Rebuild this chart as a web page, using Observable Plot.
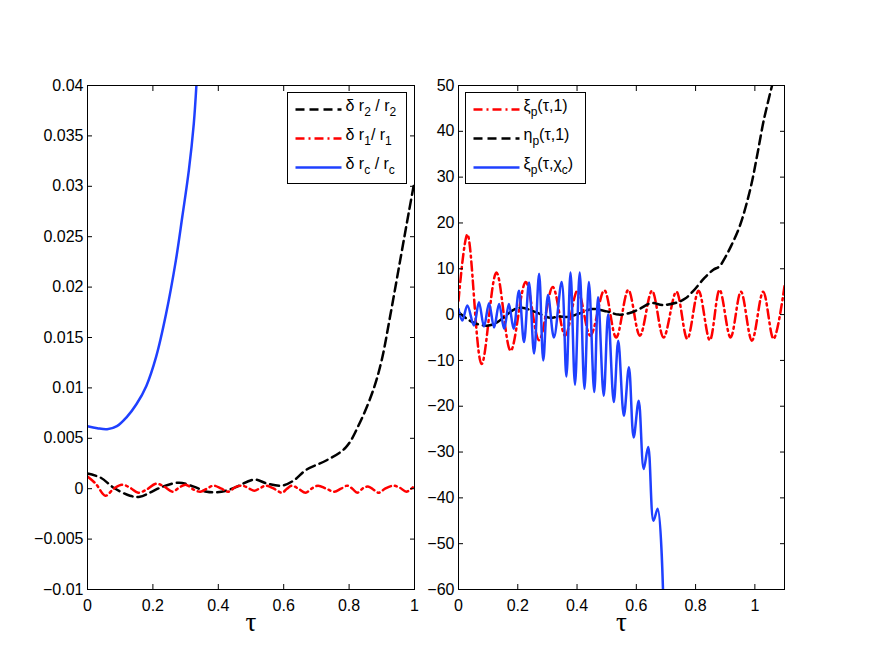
<!DOCTYPE html>
<html>
<head>
<meta charset="utf-8">
<script src="https://cdn.jsdelivr.net/npm/d3@7"></script>
<script src="https://cdn.jsdelivr.net/npm/@observablehq/plot@0.6"></script>
<style>
  body { margin: 0; background: #fff; }
  #fig { position: relative; width: 872px; height: 655px; background: #fff; overflow: hidden; }
  #fig > .panel { position: absolute; top: 0; overflow: visible; }
  #fig > svg.overlay { position: absolute; left: 0; top: 0; pointer-events: none; }
</style>
</head>
<body>
<div id="fig"></div>
<script>
// ---------------- data ----------------
// Left panel: relative perturbations
const r2Tau = [0,0.04,0.08,0.13,0.16,0.19,0.23,0.28,0.325,0.365,0.41,0.45,0.51,0.55,0.595,0.63,0.67,0.73,0.79,0.835,0.876,0.9,0.926,0.957,0.983,1.0];
const r2Val = [0.0015,0.0011,0.0001,-0.0007,-0.0008,-0.0004,0.0002,0.0006,0.0002,-0.0003,-0.0003,0.0001,0.0009,0.0005,0.0003,0.0008,0.0019,0.0028,0.0041,0.0067,0.0100,0.0128,0.0172,0.0228,0.0275,0.0305];

const r1Tau = [0,0.025,0.055,0.08,0.105,0.13,0.155,0.18,0.21,0.235,0.26,0.28,0.30,0.325,0.345,0.365,0.385,0.41,0.43,0.455,0.475,0.495,0.51,0.53,0.545,0.57,0.595,0.61,0.625,0.645,0.667,0.685,0.705,0.73,0.755,0.775,0.795,0.81,0.825,0.845,0.86,0.875,0.89,0.91,0.935,0.955,0.975,0.99,1.0];
const r1Val = [0.0012,0.0005,-0.0007,0.0000,0.0004,0.0001,-0.0004,-0.0001,0.0005,0.0002,-0.0003,0.0001,0.0004,-0.0001,-0.0003,0.0000,0.0003,0.0000,-0.0003,0.0002,0.0003,0.0000,-0.0002,0.0001,0.0003,0.0000,-0.0004,0.0000,0.0003,0.0000,-0.0004,0.0000,0.0003,0.0000,-0.0003,0.0000,0.0003,0.0000,-0.0004,0.0001,0.0002,-0.0001,-0.0004,0.0000,0.0003,0.0001,-0.0003,0.0000,0.0003];

const rcTau = [0,0.03,0.06,0.09,0.12,0.15,0.18,0.21,0.24,0.27,0.29,0.31,0.325,0.333];
const rcVal = [0.0062,0.0060,0.0059,0.0062,0.0071,0.0084,0.0102,0.0131,0.0173,0.0226,0.0270,0.0316,0.0362,0.0400];

// Right panel: displacements
const xi1Tau = [0,0.03,0.078,0.128,0.176,0.227,0.272,0.318,0.36,0.402,0.445,0.492,0.532,0.573,0.612,0.653,0.692,0.735,0.772,0.81,0.848,0.881,0.918,0.953,0.99,1.028,1.063,1.1];
const xi1Val = [3,17.5,-10.8,9.2,-7.9,7.1,-5.6,6.0,-4.6,5.3,-4.6,5.3,-5.0,5.4,-4.6,5.2,-5.0,5.0,-5.3,5.2,-5.6,5.4,-5.0,5.0,-5.7,5.0,-5.3,6.2];

const eta1Tau = [0,0.03,0.06,0.1,0.13,0.16,0.19,0.215,0.25,0.28,0.31,0.34,0.37,0.41,0.45,0.5,0.54,0.575,0.61,0.65,0.69,0.74,0.765,0.79,0.83,0.86,0.88,0.9,0.92,0.95,0.985,1.007,1.03,1.058];
const eta1Val = [0.5,-1,-2,-2.4,-1.7,-0.2,1.2,1.5,0.8,0,-0.7,-0.4,-0.5,0.3,1.2,0.7,0,0.3,1.2,2.5,2.1,2.7,3.5,5,8,9.8,10.5,12.5,15,19.5,27.5,34.5,42.4,50];

const xicTau = [0,0.013,0.03,0.052,0.069,0.086,0.103,0.12,0.137,0.154,0.17,0.186,0.204,0.221,0.238,0.255,0.272,0.286,0.302,0.322,0.348,0.364,0.378,0.393,0.409,0.425,0.44,0.458,0.471,0.49,0.505,0.524,0.539,0.558,0.575,0.591,0.608,0.625,0.64,0.658,0.672,0.69];
const xicVal = [1.2,-1.3,2.0,-2.4,2.7,-2.6,2.5,-2.8,2.3,-3.1,2.3,-3.1,5.2,-6.0,7.0,-8.5,8.9,-10.0,4.3,-5.0,7.1,-13.5,9.2,-15.3,9.2,-16.2,7.1,-16.9,3.8,-17.7,0.1,-19.1,-5.7,-22.1,-11.5,-26.8,-18.8,-33.7,-28.9,-45.0,-42.4,-60];

// Ticks
const leftXTicks = [0,0.2,0.4,0.6,0.8,1];
const leftYTicks = [-0.01,-0.005,0,0.005,0.01,0.015,0.02,0.025,0.03,0.035,0.04];
const rightXTicks = [0,0.2,0.4,0.6,0.8,1];
const rightYTicks = [-60,-50,-40,-30,-20,-10,0,10,20,30,40,50];

// Legend labels ("_x" = subscript x)
const leftLegend = ["δ r_2 / r_2", "δ r_1/ r_1", "δ r_c / r_c"];
const rightLegend = ["ξ_p(τ,1)", "η_p(τ,1)", "ξ_p(τ,χ_c)"];
const xLabel = "τ";

// ---------------- styling ----------------
const FONT = '"Liberation Sans", Arial, Helvetica, sans-serif';
const BLUE = "#1f40ff";
const RED = "#ff0000";
const BLACK = "#000000";
const DASH = "9,5";
const DASHDOT = "9,4,2,4";
const LW = 2.5;

const rows = (t, v) => t.map((d, i) => ({t: d, v: v[i]}));
const minus = s => s.replace("-", "\u2212");
const fmtLeft = d => d === 0 ? "0" : minus(String(+d.toFixed(3)));
const fmtNum = d => minus(String(d));

function framing(xTicks, yTicks, fmtY) {
  return [
    Plot.frame({stroke: BLACK, strokeWidth: 1}),
    Plot.axisY({ticks: yTicks, anchor: "left", tickSize: -5, tickPadding: 9, tickFormat: fmtY, label: null, fontSize: 16}),
    Plot.axisY({ticks: yTicks, anchor: "right", tickSize: -5, tickFormat: () => "", label: null}),
    Plot.axisX({ticks: xTicks, anchor: "bottom", tickSize: -5, tickPadding: 15, tickFormat: fmtNum, label: null, fontSize: 16}),
    Plot.axisX({ticks: xTicks, anchor: "top", tickSize: -5, tickFormat: () => "", label: null}),
    Plot.text([xLabel], {frameAnchor: "bottom", dy: 41, fontSize: 27, fontFamily: '"Liberation Serif", "DejaVu Serif", serif', fill: BLACK})
  ];
}

const leftPlot = Plot.plot({
  width: 430, height: 655,
  marginLeft: 87, marginRight: 16, marginTop: 85, marginBottom: 66,
  x: {domain: [0, 1]},
  y: {domain: [-0.01, 0.04]},
  style: {fontFamily: FONT, fontSize: "16px", background: "transparent", color: BLACK},
  marks: [
    Plot.line(rows(r2Tau, r2Val), {x: "t", y: "v", stroke: BLACK, strokeWidth: LW, strokeDasharray: DASH, curve: "catmull-rom", clip: true}),
    Plot.line(rows(r1Tau, r1Val), {x: "t", y: "v", stroke: RED, strokeWidth: LW, strokeDasharray: DASHDOT, curve: "catmull-rom", clip: true}),
    Plot.line(rows(rcTau, rcVal), {x: "t", y: "v", stroke: BLUE, strokeWidth: LW, curve: "catmull-rom", clip: true}),
    ...framing(leftXTicks, leftYTicks, fmtLeft)
  ]
});

const rightPlot = Plot.plot({
  width: 472, height: 655,
  marginLeft: 58, marginRight: 88, marginTop: 85, marginBottom: 66,
  x: {domain: [0, 1.1]},
  y: {domain: [-60, 50]},
  style: {fontFamily: FONT, fontSize: "16px", background: "transparent", color: BLACK},
  marks: [
    Plot.line(rows(xi1Tau, xi1Val), {x: "t", y: "v", stroke: RED, strokeWidth: LW, strokeDasharray: DASHDOT, curve: "catmull-rom", clip: true}),
    Plot.line(rows(eta1Tau, eta1Val), {x: "t", y: "v", stroke: BLACK, strokeWidth: LW, strokeDasharray: DASH, curve: "catmull-rom", clip: true}),
    Plot.line(rows(xicTau, xicVal), {x: "t", y: "v", stroke: BLUE, strokeWidth: LW, curve: "catmull-rom", clip: true}),
    ...framing(rightXTicks, rightYTicks, fmtNum)
  ]
});

const fig = document.getElementById("fig");
leftPlot.classList.add("panel");
leftPlot.style.left = "0px";
rightPlot.classList.add("panel");
rightPlot.style.left = "400px";
fig.appendChild(leftPlot);
fig.appendChild(rightPlot);

// ---------------- legends (overlay) ----------------
const overlay = d3.select(fig).append("svg")
  .attr("class", "overlay")
  .attr("width", 872).attr("height", 655)
  .attr("font-family", FONT);

function addLabel(g, str, x, y) {
  const text = g.append("text").attr("x", x).attr("y", y).attr("font-size", 16).attr("fill", BLACK);
  const parts = str.split(/_(.)/);
  parts.forEach((p, i) => {
    if (p === "") return;
    const isSub = i % 2 === 1;
    const prevSub = i > 0 && (i - 1) % 2 === 1;
    text.append("tspan")
      .attr("font-size", isSub ? 12 : 16)
      .attr("dy", isSub ? 5 : (prevSub ? -5 : 0))
      .text(p);
  });
}

function legend(box, items) {
  const g = overlay.append("g");
  g.append("rect").attr("x", box.x).attr("y", box.y).attr("width", box.w).attr("height", box.h)
    .attr("fill", "#fff").attr("stroke", BLACK).attr("stroke-width", 1);
  items.forEach((it, i) => {
    const y = box.y + 17 + i * 29;
    g.append("line").attr("x1", box.x + 8).attr("x2", box.x + 54).attr("y1", y).attr("y2", y)
      .attr("stroke", it.color).attr("stroke-width", LW)
      .attr("stroke-dasharray", it.dash || null);
    addLabel(g, it.label, box.x + 58, y + 1);
  });
}

legend({x: 287.5, y: 92.5, w: 119, h: 91}, [
  {label: leftLegend[0], color: BLACK, dash: DASH},
  {label: leftLegend[1], color: RED, dash: DASHDOT},
  {label: leftLegend[2], color: BLUE}
]);
legend({x: 465.5, y: 92.5, w: 120, h: 91}, [
  {label: rightLegend[0], color: RED, dash: DASHDOT},
  {label: rightLegend[1], color: BLACK, dash: DASH},
  {label: rightLegend[2], color: BLUE}
]);
</script>
</body>
</html>
